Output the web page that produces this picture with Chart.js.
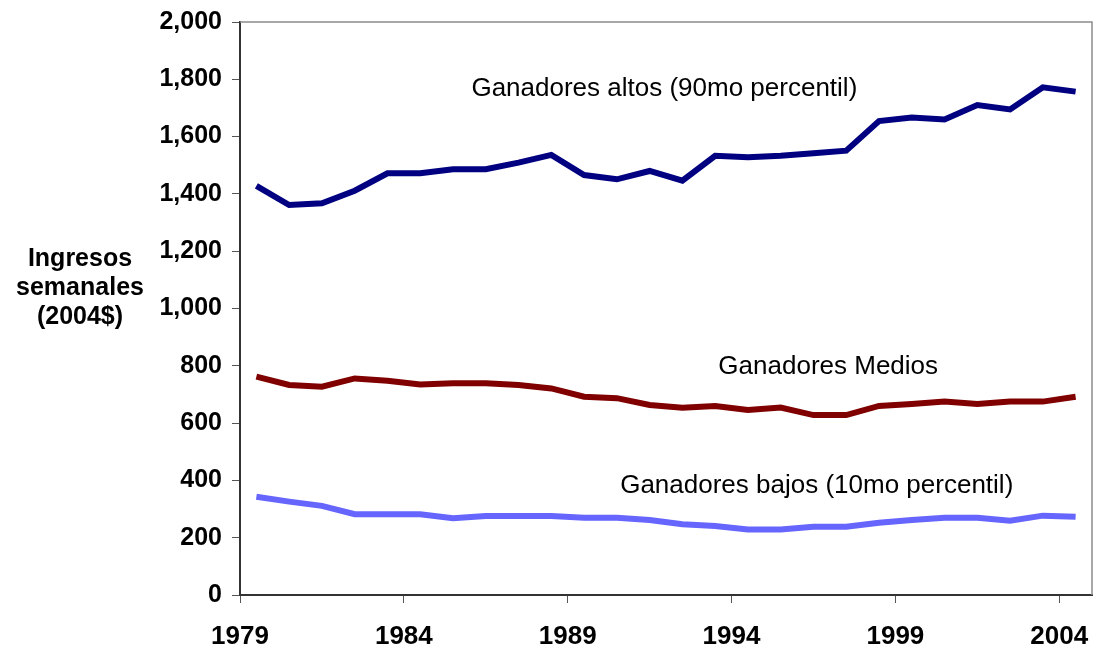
<!DOCTYPE html>
<html lang="es">
<head>
<meta charset="UTF-8">
<title>Ingresos semanales</title>
<script src="https://cdn.jsdelivr.net/npm/chart.js"></script>
<style>
  body { margin: 0; background: #fff; }
  canvas { display: block; }
</style>
</head>
<body>
<canvas id="ingresosChart" width="1101" height="648"></canvas>
<script>
// datos (dolares de 2004 por semana)
var years = [1979, 1980, 1981, 1982, 1983, 1984, 1985, 1986, 1987, 1988, 1989, 1990, 1991,
             1992, 1993, 1994, 1995, 1996, 1997, 1998, 1999, 2000, 2001, 2002, 2003, 2004];
var altos = [1428, 1361, 1367, 1411, 1472, 1472, 1486, 1486, 1509, 1536, 1466, 1451, 1480,
             1446, 1533, 1528, 1533, 1542, 1551, 1654, 1667, 1660, 1710, 1695, 1772, 1757];
var medios = [762, 733, 727, 756, 748, 735, 739, 739, 733, 721, 692, 687, 663,
              654, 660, 646, 654, 628, 628, 660, 667, 675, 667, 675, 675, 692];
var bajos = [343, 326, 311, 282, 282, 282, 268, 276, 276, 276, 270, 270, 262,
             247, 241, 229, 229, 238, 238, 252, 262, 270, 270, 259, 277, 273];
var tickYears = [1979, 1984, 1989, 1994, 1999, 2004];
var yTitle = ['Ingresos', 'semanales', '(2004$)'];

// etiquetas de las series, ubicadas en coordenadas de datos
var seriesLabels = [
    { text: 'Ganadores altos (90mo percentil)', x: 1991.45, y: 1766 },
    { text: 'Ganadores Medios', x: 1996.45, y: 796 },
    { text: 'Ganadores bajos (10mo percentil)', x: 1996.1, y: 380 }
];

function toPoints(values) {
    return values.map(function (v, i) { return { x: years[i], y: v }; });
}

var fontFamily = "'Liberation Sans', Arial, sans-serif";
Chart.defaults.font.family = fontFamily;

var extrasPlugin = {
    id: 'extras',
    beforeDatasetsDraw: function (chart) {
        var ctx = chart.ctx, a = chart.chartArea;
        ctx.save();
        ctx.strokeStyle = '#8c8c8c';
        ctx.lineWidth = 1.5;
        ctx.beginPath();
        ctx.moveTo(a.left, a.top);
        ctx.lineTo(a.right, a.top);
        ctx.lineTo(a.right, a.bottom);
        ctx.stroke();
        ctx.restore();
    },
    afterDatasetsDraw: function (chart) {
        var ctx = chart.ctx;
        var xs = chart.scales.x, ys = chart.scales.y;
        ctx.save();
        ctx.fillStyle = '#000';
        ctx.textAlign = 'center';
        ctx.textBaseline = 'middle';
        ctx.font = '26px ' + fontFamily;
        seriesLabels.forEach(function (l) {
            ctx.fillText(l.text, xs.getPixelForValue(l.x), ys.getPixelForValue(l.y));
        });
        ctx.font = 'bold 25px ' + fontFamily;
        yTitle.forEach(function (line, i) {
            ctx.fillText(line, 80, 259 + i * 29);
        });
        ctx.restore();
    }
};

function makeSet(label, values, color) {
    return {
        label: label,
        data: toPoints(values),
        borderColor: color,
        backgroundColor: color,
        borderWidth: 6,
        pointRadius: 0,
        tension: 0,
        fill: false
    };
}

var ctx = document.getElementById('ingresosChart').getContext('2d');
var chart = new Chart(ctx, {
    type: 'line',
    data: {
        datasets: [
            makeSet('Ganadores altos (90mo percentil)', altos, '#000080'),
            makeSet('Ganadores Medios', medios, '#800000'),
            makeSet('Ganadores bajos (10mo percentil)', bajos, '#6666ff')
        ]
    },
    plugins: [extrasPlugin],
    options: {
        responsive: false,
        animation: false,
        layout: { padding: { top: 22, right: 9, left: 0, bottom: 0 } },
        plugins: {
            legend: { display: false },
            tooltip: { enabled: false }
        },
        scales: {
            x: {
                type: 'linear',
                min: years[0] - 0.5,
                max: years[years.length - 1] + 0.5,
                afterBuildTicks: function (scale) {
                    scale.ticks = tickYears.map(function (y) { return { value: y - 0.5 }; });
                },
                afterFit: function (scale) {
                    scale.height = 53;
                    scale.paddingLeft = 0;
                    scale.paddingRight = 0;
                },
                border: { color: '#333', width: 2 },
                grid: { drawOnChartArea: false, color: '#555', tickLength: 8 },
                ticks: {
                    autoSkip: false,
                    maxRotation: 0,
                    padding: 18,
                    color: '#000',
                    font: { size: 26, weight: 'bold' },
                    callback: function (v) { return String(v + 0.5); }
                }
            },
            y: {
                min: 0,
                max: 2000,
                afterFit: function (scale) {
                    scale.width = 240;
                    scale.paddingTop = 0;
                    scale.paddingBottom = 0;
                },
                border: { color: '#333', width: 2 },
                grid: { drawOnChartArea: false, color: '#555', tickLength: 8 },
                ticks: {
                    stepSize: 200,
                    padding: 10,
                    color: '#000',
                    font: { size: 25, weight: 'bold' },
                    callback: function (v) { return v.toLocaleString('en-US'); }
                }
            }
        }
    }
});
</script>
</body>
</html>
